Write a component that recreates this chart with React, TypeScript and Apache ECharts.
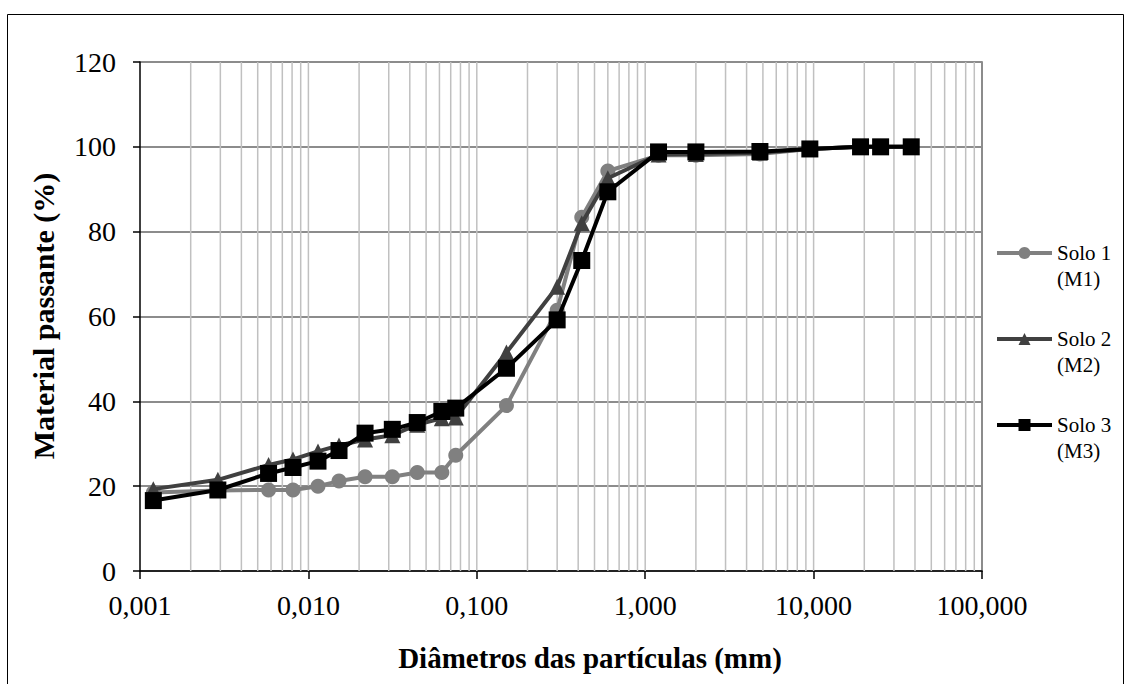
import React, { useEffect, useRef } from "react";
import * as echarts from "echarts";

// particle diameters (mm)
const diameters = [0.0012, 0.0029, 0.0058, 0.0081, 0.0114, 0.0152, 0.0217, 0.0315, 0.0443, 0.062, 0.075, 0.15, 0.3, 0.42, 0.6, 1.2, 2.0, 4.8, 9.5, 19, 25, 38];
// % passing
const solo1 = [18.5, 19.0, 19.1, 19.1, 20.0, 21.2, 22.2, 22.2, 23.2, 23.2, 27.3, 39.0, 61.5, 83.4, 94.3, 98.0, 98.0, 98.3, 99.5, 100, 100, 100];
const solo2 = [19.3, 21.5, 25.0, 26.3, 28.2, 29.6, 31.0, 32.0, 34.5, 36.0, 36.2, 51.5, 67.0, 82.0, 92.6, 98.2, 98.3, 98.6, 99.5, 100, 100, 100];
const solo3 = [16.6, 19.1, 23.0, 24.4, 25.9, 28.4, 32.5, 33.4, 35.0, 37.6, 38.4, 47.8, 59.2, 73.2, 89.4, 98.8, 98.8, 98.9, 99.5, 100, 100, 100];

const seriesNames = ["Solo 1\n(M1)", "Solo 2\n(M2)", "Solo 3\n(M3)"];
const xTitle = "Diâmetros das partículas (mm)";
const yTitle = "Material passante (%)";

// log-grid positions: decades × 1..9
const decades = [0.001, 0.01, 0.1, 1, 10];
const gridSteps = [1, 2, 3, 4, 5, 6, 7, 8, 9];

const FONT = "'Times New Roman', 'Liberation Serif', serif";

export default function App() {
  const ref = useRef<HTMLDivElement>(null);

  useEffect(() => {
    const chart = echarts.init(ref.current!, null, { renderer: "svg" });
    const gridVals: number[][] = [];
    decades.forEach((d) =>
      gridSteps.forEach((k) => {
        if (!(d === 0.001 && k === 1)) gridVals.push([d * k, 0]);
      })
    );

    const mk = (ys: number[]) => diameters.map((x, i) => [x, ys[i]]);

    chart.setOption({
      animation: false,
      backgroundColor: "#ffffff",
      grid: { left: 140, right: 144, top: 62, bottom: 113, containLabel: false },
      xAxis: {
        type: "log",
        logBase: 10,
        min: 0.001,
        max: 100,
        splitNumber: 5,
        axisLine: { show: true, lineStyle: { color: "#000", width: 1.5 } },
        axisTick: { show: true, inside: false, length: 8, lineStyle: { color: "#000", width: 1.5 } },
        axisLabel: {
          color: "#000",
          fontFamily: FONT,
          fontSize: 28,
          margin: 20,
          formatter: (v: number) => v.toFixed(3).replace(".", ","),
        },
        splitLine: { show: false },
      },
      yAxis: [
        {
          type: "value",
          min: 0,
          max: 120,
          interval: 20,
          axisLine: { show: true, lineStyle: { color: "#000", width: 1.5 } },
          axisTick: { show: true, inside: false, length: 7, lineStyle: { color: "#000", width: 1.5 } },
          axisLabel: { color: "#000", fontFamily: FONT, fontSize: 28, margin: 24 },
          splitLine: { show: true, lineStyle: { color: "#8c8c8c", width: 2 } },
        },
        {
          type: "value",
          position: "right",
          min: 0,
          max: 120,
          interval: 20,
          axisLine: { show: true, lineStyle: { color: "#8c8c8c", width: 2 } },
          axisTick: { show: false },
          axisLabel: { show: false },
          splitLine: { show: false },
        },
      ],
      legend: {
        orient: "vertical",
        left: 990,
        top: 209,
        itemWidth: 55,
        itemHeight: 15,
        itemGap: 8,
        data: seriesNames,
        lineStyle: { width: 4 },
        formatter: (name: string) => "\n" + name,
        textStyle: {
          color: "#000",
          fontFamily: FONT,
          fontSize: 21,
          lineHeight: 26,
        },
      },
      graphic: [
        {
          type: "rect",
          shape: { x: 7.5, y: 14.5, width: 1116, height: 680 },
          style: { fill: "none", stroke: "#000", lineWidth: 1 },
          silent: true,
        },
        {
          type: "text",
          x: 590,
          y: 658,
          style: {
            text: xTitle,
            fontFamily: FONT,
            fontSize: 29,
            fontWeight: "bold",
            fill: "#000",
            align: "center",
            verticalAlign: "middle",
          },
        },
        {
          type: "text",
          x: 43,
          y: 316,
          rotation: Math.PI / 2,
          style: {
            text: yTitle,
            fontFamily: FONT,
            fontSize: 30,
            fontWeight: "bold",
            fill: "#000",
            align: "center",
            verticalAlign: "middle",
          },
        },
      ],
      series: [
        {
          type: "custom",
          name: "grid",
          silent: true,
          z: 1,
          data: gridVals,
          encode: { x: 0, y: 1 },
          renderItem: (params: any, api: any) => {
            const v = api.value(0);
            const p0 = api.coord([v, 0]);
            const p1 = api.coord([v, 120]);
            return {
              type: "line",
              shape: { x1: p0[0], y1: p0[1], x2: p1[0], y2: p1[1] },
              style: { stroke: "#c0c0c0", lineWidth: 1.5 },
            };
          },
        },
        {
          name: seriesNames[0],
          type: "line",
          data: mk(solo1),
          symbol: "circle",
          symbolSize: 15,
          z: 3,
          lineStyle: { color: "#808080", width: 4 },
          itemStyle: { color: "#808080" },
        },
        {
          name: seriesNames[1],
          type: "line",
          data: mk(solo2),
          symbol: "triangle",
          symbolSize: 16,
          z: 4,
          lineStyle: { color: "#404040", width: 4 },
          itemStyle: { color: "#404040" },
        },
        {
          name: seriesNames[2],
          type: "line",
          data: mk(solo3),
          symbol: "rect",
          symbolSize: 17,
          z: 5,
          lineStyle: { color: "#000000", width: 4 },
          itemStyle: { color: "#000000" },
        },
      ],
    });

    return () => chart.dispose();
  }, []);

  return (
    <div
      ref={ref}
      style={{ position: "absolute", left: 0, top: 0, width: 1126, height: 684, background: "#fff" }}
    />
  );
}
